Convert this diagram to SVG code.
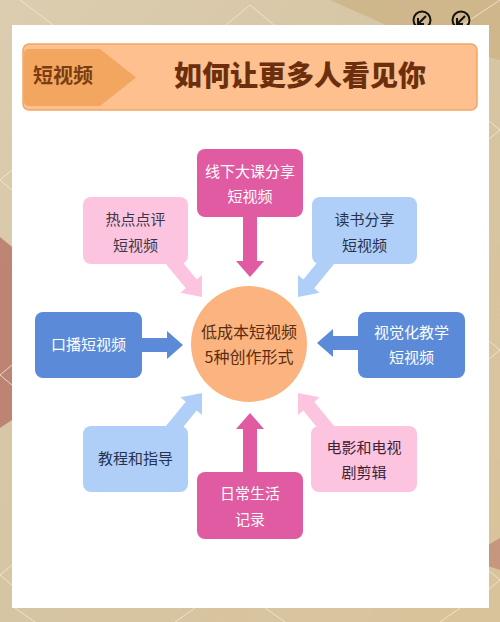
<svg xmlns="http://www.w3.org/2000/svg" width="500" height="622" viewBox="0 0 500 622">
  <defs>
    <linearGradient id="bg" x1="0" y1="0" x2="1" y2="1">
      <stop offset="0" stop-color="#dccdb0"/>
      <stop offset="0.5" stop-color="#d6c5a3"/>
      <stop offset="1" stop-color="#d9c39a"/>
    </linearGradient>
    <path id="diag" d="M-50,-7 L-17,-7 L-17,-14 L0,0 L-17,14 L-17,7 L-50,7 Z"/>
    <style>
      .t { font-family: "Noto Sans CJK SC", "Noto Sans", sans-serif; font-size: 15px; text-anchor: middle; }
      .w { fill: #ffffff; }
      .dk { fill: #3a3848; }
      .mag { fill: #e05ba2; }
      .lpk { fill: #fcc4df; }
      .lbl { fill: #b0cff8; }
      .blu { fill: #5b8bd8; }
      .bgline { stroke: #f3ead8; stroke-width: 1; fill: none; opacity: 0.8; }
    </style>
  </defs>

  <!-- background -->
  <rect width="500" height="622" fill="url(#bg)"/>
  <polygon points="330,0 500,0 500,60 420,40" fill="#c9ab7c" opacity="0.6"/>
  <polygon points="0,237 12,247 12,420 0,428" fill="#b9786a" opacity="0.85"/>
  <polygon points="488,545 500,538 500,570 488,566" fill="#b9786a" opacity="0.6"/>
  <g class="bgline">
    <polyline points="20,0 60,30"/>
    <polyline points="220,30 250,5 280,30"/>
    <polyline points="440,40 500,0"/>
    <polyline points="12,170 0,180 12,190"/>
    <polyline points="12,365 0,375 12,385"/>
    <polyline points="12,565 0,575 12,585"/>
    <polyline points="488,120 500,130 488,140"/>
    <polyline points="488,340 500,350 488,360"/>
    <polyline points="488,570 500,580 488,590"/>
    <polyline points="15,608 35,622"/>
    <polyline points="175,622 195,608"/>
    <polyline points="265,608 285,622"/>
    <polyline points="440,622 460,608"/>
  </g>

  <!-- icons -->
  <g fill="none" stroke="#111" stroke-width="2">
    <circle cx="422" cy="20" r="8.5"/>
    <path d="M426,16 L418,24 M418,18 L418,24 L424,24"/>
    <circle cx="461" cy="20" r="8.5"/>
    <path d="M465,16 L457,24 M457,18 L457,24 L463,24"/>
  </g>

  <!-- white panel -->
  <rect x="12" y="25" width="477" height="583" fill="#ffffff"/>

  <!-- header -->
  <g id="header">
    <rect x="23" y="44" width="454" height="66" rx="6" fill="#fdc08e" stroke="#f1a566" stroke-width="1.5"/>
    <path d="M29,49 L100,49 L136,77.5 L100,106 L29,106 Q24,106 24,101 L24,54 Q24,49 29,49 Z" fill="#f3a660"/>
    <text x="63" y="83" style="font-family:'Noto Sans CJK SC','Noto Sans',sans-serif;font-size:20px;font-weight:700;text-anchor:middle" fill="#7a3d12">短视频</text>
    <text x="300" y="86" style="font-family:'Noto Sans CJK SC','Noto Sans',sans-serif;font-size:28px;font-weight:900;text-anchor:middle" fill="#6b2f0e">如何让更多人看见你</text>
  </g>

  <!-- connectors -->
  <g id="connectors">
    <polygon class="mag" points="243,214 257,214 257,261 264,261 250,277 236,261 243,261"/>
    <polygon class="mag" points="243,475 257,475 257,429 264,429 250,413 236,429 243,429"/>
    <polygon class="blu" points="139,338 167,338 167,331 183,345 167,359 167,352 139,352"/>
    <polygon class="blu" points="361,336 333,336 333,329 317,343 333,357 333,350 361,350"/>
    <use href="#diag" class="lpk" transform="translate(202,297) rotate(50.7)"/>
    <use href="#diag" class="lbl" transform="translate(298,297) rotate(129.3)"/>
    <use href="#diag" class="lbl" transform="translate(202,393) rotate(-50.7)"/>
    <use href="#diag" class="lpk" transform="translate(298,393) rotate(-129.3)"/>
  </g>

  <!-- nodes -->
  <g id="n-center">
    <circle cx="249" cy="344" r="58" fill="#fbb47f"/>
    <text class="t" x="249" y="338" style="font-size:16px" fill="#5a2d10">低成本短视频</text>
    <text class="t" x="249" y="363" style="font-size:16px" fill="#5a2d10">5种创作形式</text>
  </g>
  <g id="n-top">
    <rect class="mag" x="197" y="149" width="106" height="68" rx="8"/>
    <text class="t w" x="250" y="177">线下大课分享</text>
    <text class="t w" x="250" y="202">短视频</text>
  </g>
  <g id="n-topleft">
    <rect class="lpk" x="83" y="197" width="105" height="67" rx="8"/>
    <text class="t dk" x="135.5" y="225">热点点评</text>
    <text class="t dk" x="135.5" y="251">短视频</text>
  </g>
  <g id="n-topright">
    <rect class="lbl" x="312" y="197" width="105" height="67" rx="8"/>
    <text class="t" x="364.5" y="225" fill="#26324d">读书分享</text>
    <text class="t" x="364.5" y="251" fill="#26324d">短视频</text>
  </g>
  <g id="n-left">
    <rect class="blu" x="35" y="312" width="107" height="66" rx="8"/>
    <text class="t w" x="88.5" y="350">口播短视频</text>
  </g>
  <g id="n-right">
    <rect class="blu" x="358" y="312" width="107" height="66" rx="8"/>
    <text class="t w" x="411.5" y="338">视觉化教学</text>
    <text class="t w" x="411.5" y="363">短视频</text>
  </g>
  <g id="n-bottomleft">
    <rect class="lbl" x="83" y="426" width="105" height="66" rx="8"/>
    <text class="t" x="135.5" y="464" fill="#26324d">教程和指导</text>
  </g>
  <g id="n-bottom">
    <rect class="mag" x="197" y="472" width="106" height="67" rx="8"/>
    <text class="t w" x="250" y="499">日常生活</text>
    <text class="t w" x="250" y="525">记录</text>
  </g>
  <g id="n-bottomright">
    <rect class="lpk" x="311" y="426" width="106" height="66" rx="8"/>
    <text class="t" x="364" y="453" fill="#3e2233">电影和电视</text>
    <text class="t" x="364" y="478" fill="#3e2233">剧剪辑</text>
  </g>
</svg>
